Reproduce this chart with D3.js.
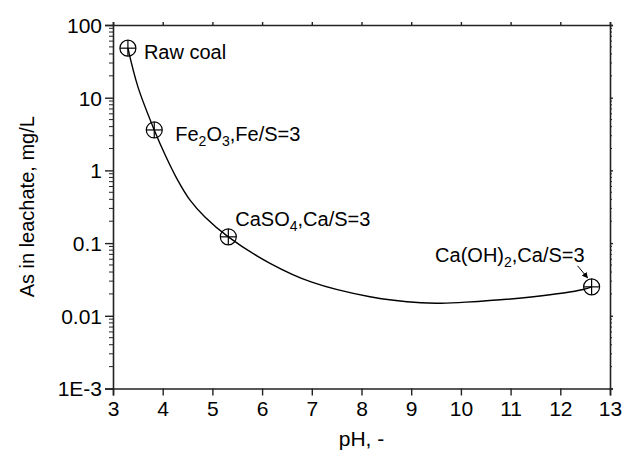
<!DOCTYPE html>
<html>
<head>
<meta charset="utf-8">
<script src="https://cdn.jsdelivr.net/npm/d3@7"></script>
<style>
  body { margin: 0; background: #fff; }
  text { font-family: "Liberation Sans", Arial, sans-serif; fill: #000; }
</style>
</head>
<body>
<script>
// measured samples
var samplePH = [3.3, 3.83, 5.32, 12.63];
var sampleAs = [48, 3.6, 0.122, 0.025];
var sampleNames = ["Raw coal", "Fe2O3", "CaSO4", "Ca(OH)2"];

// fitted curve
var curvePH = [3.3, 3.5, 3.83, 4.05, 4.29, 4.55, 4.85, 5.32, 6.16, 7.0, 8.17, 9.2, 9.6, 10.1, 11.46, 12.46, 12.63];
var curveAs = [48, 14.2, 3.6, 1.63, 0.76, 0.39, 0.229, 0.122, 0.0527, 0.029, 0.0183, 0.0151, 0.0149, 0.0154, 0.0183, 0.023, 0.025];

var xTicks = [3, 4, 5, 6, 7, 8, 9, 10, 11, 12, 13];
var yTicks = [0.001, 0.01, 0.1, 1, 10, 100];
var yTickLabels = ["1E-3", "0.01", "0.1", "1", "10", "100"];

var W = 623, H = 459;
var mLeft = 113, mRight = 610, mTop = 25, mBottom = 388.5;

var x = d3.scaleLinear().domain([3, 13]).range([mLeft, mRight]);
var y = d3.scaleLog().domain([0.001, 100]).range([mBottom, mTop]);

var svg = d3.select("body").append("svg")
  .attr("width", W)
  .attr("height", H);

var defs = svg.append("defs");
defs.append("marker")
  .attr("id", "arr")
  .attr("viewBox", "0 0 10 10")
  .attr("refX", 9).attr("refY", 5)
  .attr("markerWidth", 6).attr("markerHeight", 6)
  .attr("markerUnits", "userSpaceOnUse")
  .attr("orient", "auto")
  .append("path").attr("d", "M0,0L10,5L0,10z").attr("fill", "#000");

// minor ticks for log axis
var minor = [];
for (var e = -3; e < 2; e++) {
  for (var m = 2; m <= 9; m++) minor.push(m * Math.pow(10, e));
}

// left axis
var gL = svg.append("g").attr("transform", "translate(" + mLeft + ",0)");
gL.call(d3.axisLeft(y).tickValues(yTicks).tickSize(8).tickPadding(3)
  .tickFormat(function(d, i) { return yTickLabels[i]; }));
gL.selectAll("text").style("font-size", "21px").attr("dy", "0.35em");
gL.append("g").attr("class", "minor").selectAll("line").data(minor).enter().append("line")
  .attr("x1", 0).attr("x2", -4)
  .attr("y1", function(d) { return y(d); }).attr("y2", function(d) { return y(d); });

// right axis
var gR = svg.append("g").attr("transform", "translate(" + mRight + ",0)");
gR.call(d3.axisRight(y).tickValues(yTicks).tickSize(3).tickFormat(""));
gR.append("g").attr("class", "minor").selectAll("line").data(minor).enter().append("line")
  .attr("x1", 0).attr("x2", 2)
  .attr("y1", function(d) { return y(d); }).attr("y2", function(d) { return y(d); });

// bottom axis
var gB = svg.append("g").attr("transform", "translate(0," + mBottom + ")");
gB.call(d3.axisBottom(x).tickValues(xTicks).tickSize(7).tickPadding(6).tickFormat(d3.format("d")));
gB.selectAll("text").style("font-size", "21px");

// top axis
var gT = svg.append("g").attr("transform", "translate(0," + mTop + ")");
gT.call(d3.axisTop(x).tickValues(xTicks).tickSize(3).tickFormat(""));

svg.selectAll(".domain").attr("stroke", "#222").attr("stroke-width", 1.6);
svg.selectAll(".tick line").attr("stroke", "#222").attr("stroke-width", 1.4);
svg.selectAll(".minor line").attr("stroke", "#222").attr("stroke-width", 1);

// fitted curve
var line = d3.line()
  .x(function(d) { return x(d[0]); })
  .y(function(d) { return y(d[1]); })
  .curve(d3.curveCatmullRom.alpha(0.5));
svg.append("path")
  .datum(d3.zip(curvePH, curveAs))
  .attr("fill", "none")
  .attr("stroke", "#000")
  .attr("stroke-width", 1.4)
  .attr("d", line);

// markers: circle with cross
var r = 8;
var pts = svg.append("g").selectAll("g").data(d3.zip(samplePH, sampleAs)).enter().append("g")
  .attr("transform", function(d) { return "translate(" + x(d[0]) + "," + y(d[1]) + ")"; });
pts.append("circle").attr("r", r).attr("fill", "none").attr("stroke", "#000").attr("stroke-width", 1.2);
pts.append("line").attr("x1", -r).attr("x2", r).attr("stroke", "#000").attr("stroke-width", 1.2);
pts.append("line").attr("y1", -r).attr("y2", r).attr("stroke", "#000").attr("stroke-width", 1.2);

// annotations
function px(i) { return x(samplePH[i]); }
function py(i) { return y(sampleAs[i]); }
var fs = "20px", sub = "14px";

svg.append("text").attr("x", px(0) + 16).attr("y", py(0) + 11).style("font-size", fs).text("Raw coal");

var t1 = svg.append("text").attr("x", px(1) + 21).attr("y", py(1) + 11).style("font-size", fs);
t1.append("tspan").text("Fe");
t1.append("tspan").attr("dy", 5).style("font-size", sub).text("2");
t1.append("tspan").attr("dy", -5).text("O");
t1.append("tspan").attr("dy", 5).style("font-size", sub).text("3");
t1.append("tspan").attr("dy", -5).text(",Fe/S=3");

var t2 = svg.append("text").attr("x", px(2) + 7).attr("y", py(2) - 11).style("font-size", fs);
t2.append("tspan").text("CaSO");
t2.append("tspan").attr("dy", 5).style("font-size", sub).text("4");
t2.append("tspan").attr("dy", -5).text(",Ca/S=3");

var t3 = svg.append("text").attr("x", px(3) - 7).attr("y", py(3) - 25)
  .attr("text-anchor", "end").style("font-size", fs);
t3.append("tspan").text("Ca(OH)");
t3.append("tspan").attr("dy", 5).style("font-size", sub).text("2");
t3.append("tspan").attr("dy", -5).text(",Ca/S=3");

svg.append("line")
  .attr("x1", px(3) - 14).attr("y1", py(3) - 21)
  .attr("x2", px(3) - 4).attr("y2", py(3) - 9)
  .attr("stroke", "#000").attr("stroke-width", 1)
  .attr("marker-end", "url(#arr)");

// axis titles
svg.append("text")
  .attr("x", (mLeft + mRight) / 2).attr("y", 446)
  .attr("text-anchor", "middle").style("font-size", "21px")
  .text("pH, -");
svg.append("text")
  .attr("transform", "translate(34," + (mTop + mBottom) / 2 + ") rotate(-90)")
  .attr("text-anchor", "middle").style("font-size", "20px")
  .text("As in leachate, mg/L");
</script>
</body>
</html>
